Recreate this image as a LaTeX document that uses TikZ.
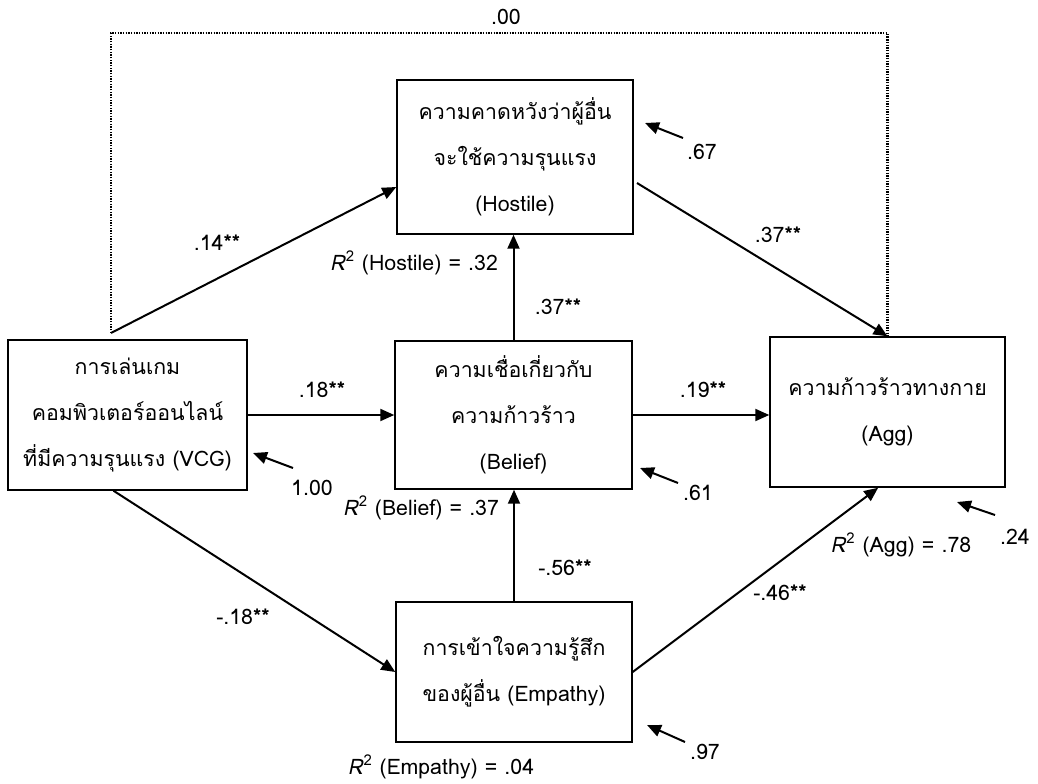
\documentclass[tikz,border=0pt]{standalone}
\usepackage{fontspec}
\setmainfont{Loma}
\newfontfamily\thaifont[Script=Thai]{Loma}
\usetikzlibrary{arrows.meta,calc}
\tikzset{
  box/.style={draw, line width=1.1pt, inner sep=0pt, align=center,
    font=\thaifont\fontsize{16}{34.5}\selectfont},
  path/.style={line width=1.5pt, -{Triangle[length=10.5pt,width=9pt]}},
  resid/.style={line width=1.5pt, -{Triangle[length=10.5pt,width=9pt]}},
  dotline/.style={line width=1.6pt, dash pattern=on 1pt off 1pt},
  lab/.style={inner sep=0pt, font=\fontsize{16}{18}\selectfont},
}
\newcommand{\sig}{\textbf{**}}
\newcommand{\Rsq}{\textit{R}\textsuperscript{2}}
\begin{document}
\begin{tikzpicture}[x=0.75pt,y=-0.75pt]
\useasboundingbox (0,0) rectangle (1038,784);
% boxes
\node[box, minimum width=177pt, minimum height=115.5pt] (hostile) at (515,157)
  {ความคาดหวังว่าผู้อื่น\\จะใช้ความรุนแรง\\(Hostile)};
\node[box, minimum width=179pt, minimum height=112.5pt] (vcg) at (127.5,415)
  {การเล่นเกม\\คอมพิวเตอร์ออนไลน์\\ที่มีความรุนแรง (VCG)};
\node[box, minimum width=177.75pt, minimum height=111pt] (belief) at (513.5,415)
  {ความเชื่อเกี่ยวกับ\\ความก้าวร้าว\\(Belief)};
\node[box, minimum width=176.25pt, minimum height=112.5pt] (agg) at (887.5,412)
  {ความก้าวร้าวทางกาย\\(Agg)};
\node[box, minimum width=177pt, minimum height=105pt] (emp) at (514,672)
  {การเข้าใจความรู้สึก\\ของผู้อื่น (Empathy)};
% coordinates
\coordinate (vcgtap) at (111,333);
\coordinate (dottop) at (500,33);
\coordinate (hostout) at (637,183);
% dotted direct path
\draw[dotline] (vcgtap) |- (dottop) -| (agg.north);
\node[lab] (l00) at (506,17) {.00};
% structural paths
\draw[path] (vcgtap) -- ([yshift=-22.5pt]hostile.west);
\draw[path] (vcg.east) -- (belief.west);
\draw[path] (belief.north) -- (belief.north |- hostile.south);
\draw[path] (belief.east) -- (belief.east -| agg.west);
\draw[path] (hostout) -- (agg.north);
\draw[path] (emp.north) -- (emp.north |- belief.south);
\draw[path] ([xshift=-10.5pt]vcg.south) -- (emp.west);
\draw[path] (emp.east) -- ([xshift=-7pt]agg.south);
% path labels
\node[lab] (l14) at (217,243) {.14\sig};
\node[lab] (l18) at (322,390) {.18\sig};
\node[lab] (l37a) at (558,307) {.37\sig};
\node[lab] (l19) at (703,390) {.19\sig};
\node[lab] (l37b) at (778,235) {.37\sig};
\node[lab] (l56) at (565,568) {-.56\sig};
\node[lab] (lm18) at (243,617) {-.18\sig};
\node[lab] (l46) at (780,593) {-.46\sig};
% R squared
\node[lab] (r2h) at (414,263) {\Rsq\ (Hostile) = .32};
\node[lab] (r2b) at (421,508) {\Rsq\ (Belief) = .37};
\node[lab] (r2a) at (901,545) {\Rsq\ (Agg) = .78};
\node[lab] (r2e) at (441,767) {\Rsq\ (Empathy) = .04};
% residual arrows
\coordinate (e1s) at (683,138); \coordinate (e1e) at (645,123);
\draw[resid] (e1s) -- (e1e);
\node[lab] (e1) at (702,152) {.67};
\coordinate (e2s) at (293,468); \coordinate (e2e) at (253,453);
\draw[resid] (e2s) -- (e2e);
\node[lab] (e2) at (312,488) {1.00};
\coordinate (e3s) at (678,483); \coordinate (e3e) at (640,468);
\draw[resid] (e3s) -- (e3e);
\node[lab] (e3) at (698,493) {.61};
\coordinate (e4s) at (685,742); \coordinate (e4e) at (647,725);
\draw[resid] (e4s) -- (e4e);
\node[lab] (e4) at (705,752) {.97};
\coordinate (e5s) at (995,515); \coordinate (e5e) at (957,502);
\draw[resid] (e5s) -- (e5e);
\node[lab] (e5) at (1015,537) {.24};
\end{tikzpicture}
\end{document}
